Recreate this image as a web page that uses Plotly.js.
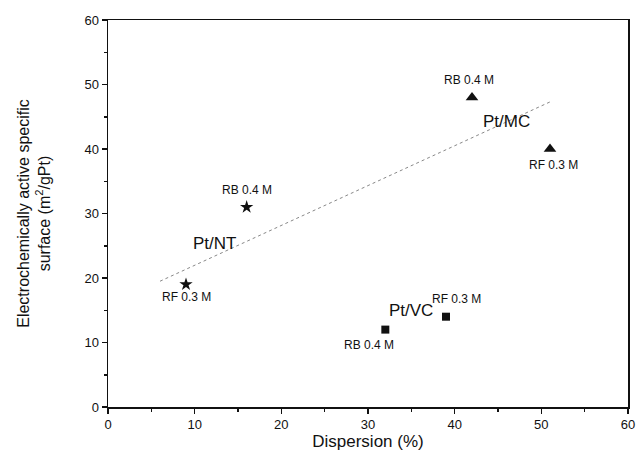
<!DOCTYPE html>
<html><head><meta charset="utf-8">
<script src="https://cdn.plot.ly/plotly-3.0.1.min.js"></script>
<style>body{margin:0;background:#fff}#chart{width:638px;height:453px}</style>
</head><body><div id="chart"></div>
<script>
// Data
const ntX = [9, 16], ntY = [19, 31], ntLabels = ['RF 0.3 M', 'RB 0.4 M'];
const vcX = [32, 39], vcY = [12, 14], vcLabels = ['RB 0.4 M', 'RF 0.3 M'];
const mcX = [42, 51], mcY = [48, 40], mcLabels = ['RB 0.4 M', 'RF 0.3 M'];
const fitX = [6, 51], fitY = [19.5, 47.3];
const groupNames = ['Pt/NT', 'Pt/VC', 'Pt/MC'];
const groupLabelX = [12.3, 35.0, 46.0], groupLabelY = [25.3, 15.0, 44.3];

const F = 'Liberation Sans, Arial, sans-serif';
const traces = [
  {x: fitX, y: fitY, mode: 'lines', line: {color: '#888', width: 1, dash: '3px,3px'}, hoverinfo: 'skip'},
  {x: ntX, y: ntY, mode: 'markers', marker: {symbol: 'star', size: 10, color: '#111'}},
  {x: vcX, y: vcY, mode: 'markers', marker: {symbol: 'square', size: 8, color: '#111'}},
  {x: mcX, y: mcY, mode: 'markers', marker: {symbol: 'triangle-up', size: 11, color: '#111'}}
];

// point label offsets (pixels)
const ann = [];
function addLabels(xs, ys, labels, offs) {
  xs.forEach((x, i) => ann.push({x: x, y: ys[i], text: labels[i], showarrow: false,
    xshift: offs[i][0], yshift: offs[i][1], font: {family: F, size: 12, color: '#111'}}));
}
addLabels(ntX, ntY, ntLabels, [[0, -13], [0, 17]]);
addLabels(vcX, vcY, vcLabels, [[-16, -15], [10, 18]]);
addLabels(mcX, mcY, mcLabels, [[-3, 17], [3, -16]]);
groupNames.forEach((g, i) => ann.push({x: groupLabelX[i], y: groupLabelY[i], text: g, showarrow: false,
  font: {family: F, size: 17, color: '#111'}}));

const axisCommon = {
  showline: true, mirror: true, linecolor: '#111', linewidth: 1.5,
  ticks: 'outside', ticklen: 5, tickwidth: 1.5, tickcolor: '#111',
  showgrid: false, zeroline: false, dtick: 10,
  tickfont: {family: F, size: 13, color: '#111'},
  minor: {ticks: 'outside', ticklen: 3, tickwidth: 1.5, tickcolor: '#111', dtick: 5}
};
const layout = {
  width: 638, height: 453,
  margin: {l: 108, r: 10, t: 20, b: 46},
  paper_bgcolor: '#fff', plot_bgcolor: '#fff',
  showlegend: false,
  xaxis: Object.assign({}, axisCommon, {range: [0, 60],
    title: {text: 'Dispersion (%)', font: {family: F, size: 17, color: '#111'}, standoff: 0}}),
  yaxis: Object.assign({}, axisCommon, {range: [0, 60],
    title: {text: 'Electrochemically active specific<br>surface (m<sup>2</sup>/gPt)', font: {family: F, size: 16, color: '#111'}, standoff: 30}}),
  annotations: ann
};
Plotly.newPlot('chart', traces, layout, {staticPlot: true});
</script></body></html>
